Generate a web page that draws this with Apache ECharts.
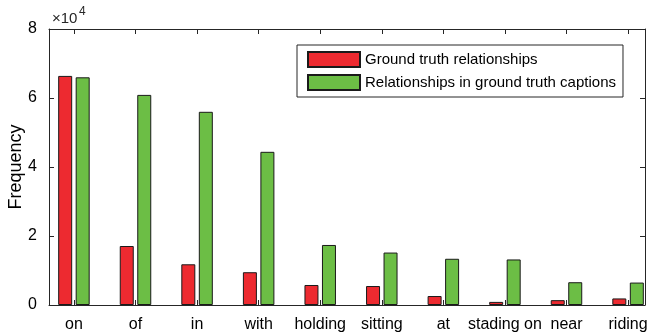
<!DOCTYPE html>
<html>
<head>
<meta charset="utf-8">
<script src="https://cdn.jsdelivr.net/npm/echarts@6/dist/echarts.min.js"></script>
<style>
  html, body { margin: 0; padding: 0; background: #fff; }
  #main { width: 648px; height: 335px; }
</style>
</head>
<body>
<div id="main"></div>
<script>
var categories = ['on', 'of', 'in', 'with', 'holding', 'sitting', 'at', 'stading on', 'near', 'riding'];
var groundTruth = [66400, 17100, 11800, 9500, 5800, 5500, 2600, 900, 1400, 1900];
var inCaptions = [66000, 60900, 56000, 44400, 17400, 15200, 13400, 13200, 6600, 6500];
var yTicks = [0, 20000, 40000, 60000, 80000];

var dom = document.getElementById('main');
var myChart = echarts.init(dom);
var font = 'Liberation Sans, Arial, Helvetica, sans-serif';
var ink = '#262626';

var positions = categories.map(function (c, i) { return i + 1; });
function toPairs(arr) {
  return arr.map(function (v, i) { return [i + 1, v]; });
}

var option = {
  animation: false,
  backgroundColor: '#fff',
  textStyle: { fontFamily: font },
  grid: { left: 49, right: 3, top: 29, bottom: 30, containLabel: false, outerBoundsMode: 'none' },
  legend: {
    orient: 'vertical',
    left: 297,
    top: 45,
    itemWidth: 52,
    itemHeight: 15,
    itemGap: 6,
    padding: [6, 7, 6, 10],
    borderColor: ink,
    borderWidth: 1,
    borderRadius: 0,
    backgroundColor: '#fff',
    icon: 'rect',
    textStyle: { fontSize: 15, color: '#000', fontFamily: font },
    data: ['Ground truth relationships', 'Relationships in ground truth captions']
  },
  graphic: [
    {
      type: 'text', left: 52, top: 11,
      style: { text: '×10', fontSize: 15, fill: ink, fontFamily: font }
    },
    {
      type: 'text', left: 79, top: 6,
      style: { text: '4', fontSize: 12, fill: ink, fontFamily: font }
    }
  ],
  xAxis: [
    {
      type: 'value',
      position: 'bottom',
      min: 0.595,
      max: 10.275,
      axisLine: { show: true, onZero: false, lineStyle: { color: ink, width: 1 } },
      axisTick: { show: true, inside: true, length: 5, customValues: positions, lineStyle: { color: ink } },
      axisLabel: {
        customValues: positions,
        formatter: function (v) { return categories[Math.round(v) - 1]; },
        fontSize: 16, color: '#000', margin: 12, fontFamily: font
      },
      splitLine: { show: false }
    },
    {
      type: 'value',
      position: 'top',
      min: 0.595,
      max: 10.275,
      axisLine: { show: true, onZero: false, lineStyle: { color: ink, width: 1 } },
      axisTick: { show: true, inside: true, length: 5, customValues: positions, lineStyle: { color: ink } },
      axisLabel: { show: false },
      splitLine: { show: false }
    }
  ],
  yAxis: [
    {
      type: 'value',
      min: 0,
      max: 80000,
      interval: 20000,
      name: 'Frequency',
      nameLocation: 'middle',
      nameGap: 24,
      nameMoveOverlap: false,
      nameTextStyle: { fontSize: 18, color: '#000', fontFamily: font },
      axisLine: { show: true, lineStyle: { color: ink, width: 1 } },
      axisTick: { show: true, inside: true, length: 5, lineStyle: { color: ink } },
      axisLabel: {
        formatter: function (v) { return v / 10000; },
        fontSize: 16, color: '#000', margin: 12, fontFamily: font
      },
      splitLine: { show: false }
    },
    {
      type: 'value',
      position: 'right',
      min: 0,
      max: 80000,
      interval: 20000,
      axisLine: { show: true, lineStyle: { color: ink, width: 1 } },
      axisTick: { show: true, inside: true, length: 5, lineStyle: { color: ink } },
      axisLabel: { show: false },
      splitLine: { show: false }
    }
  ],
  series: [
    {
      name: 'Ground truth relationships',
      type: 'bar',
      xAxisIndex: 0,
      yAxisIndex: 0,
      barWidth: 14,
      barGap: '25%',
      itemStyle: { color: '#ed2a30', borderColor: '#1a1a1a', borderWidth: 1 },
      data: toPairs(groundTruth)
    },
    {
      name: 'Relationships in ground truth captions',
      type: 'bar',
      xAxisIndex: 0,
      yAxisIndex: 0,
      barWidth: 14,
      barGap: '25%',
      itemStyle: { color: '#6cbe45', borderColor: '#1a1a1a', borderWidth: 1 },
      data: toPairs(inCaptions)
    }
  ]
};

if (option && typeof option === 'object') {
  myChart.setOption(option);
}
</script>
</body>
</html>
